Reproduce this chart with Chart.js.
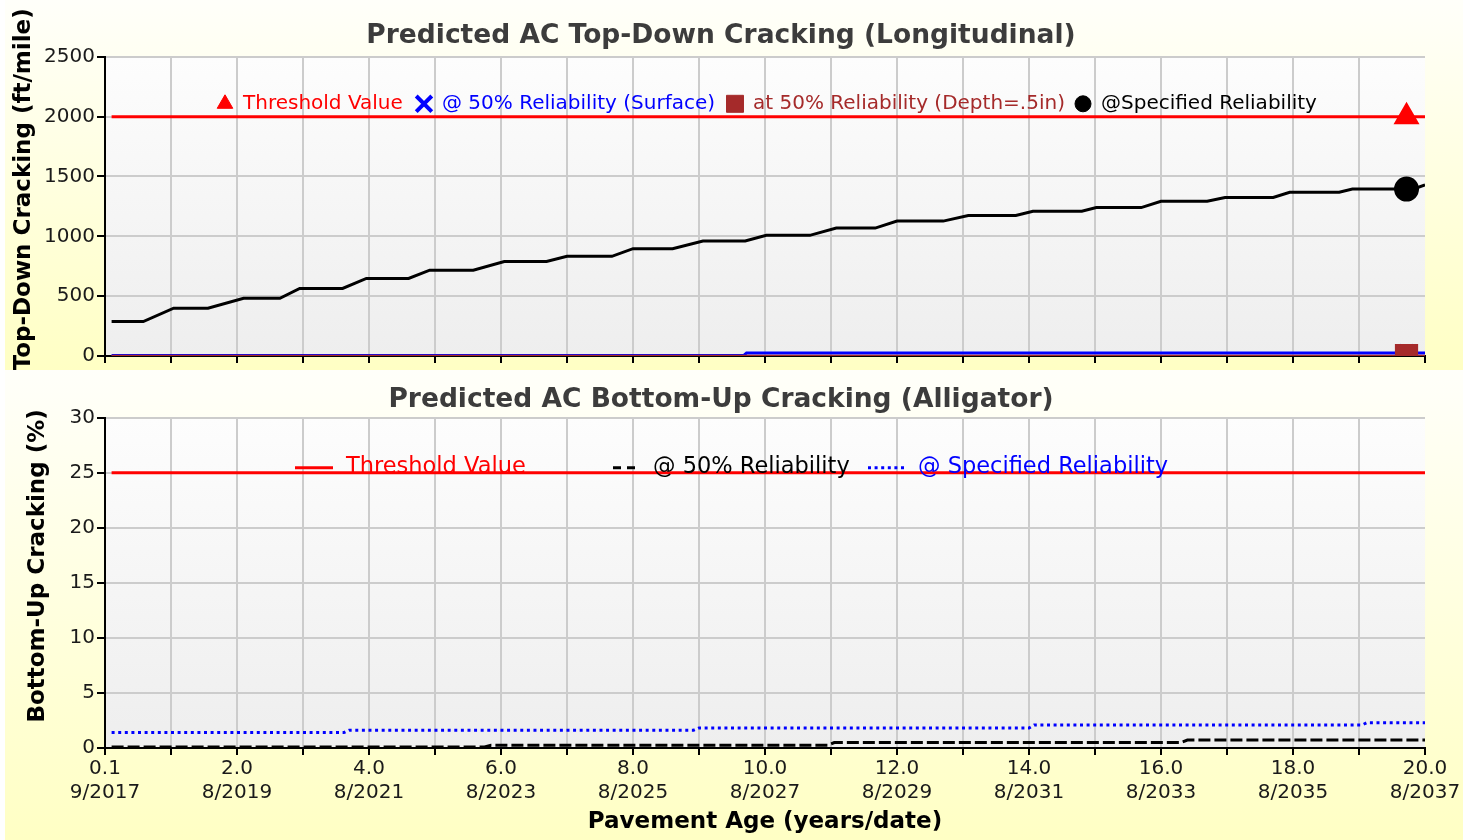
<!DOCTYPE html>
<html>
<head>
<meta charset="utf-8">
<title>Predicted AC Cracking</title>
<script src="https://cdn.jsdelivr.net/npm/chart.js@4.4.1/dist/chart.umd.min.js"></script>
<style>
    body { margin: 0; background: #fff; width: 1474px; height: 840px; overflow: hidden; }
    .panel { position: absolute; left: 0; width: 1474px; }
    #top-panel { top: 0; height: 370px; }
    #bottom-panel { top: 370px; height: 470px; }
    canvas { display: block; }
</style>
</head>
<body>
<div class="panel" id="top-panel"><canvas id="topChart" width="1474" height="370"></canvas></div>
<div class="panel" id="bottom-panel"><canvas id="bottomChart" width="1474" height="470"></canvas></div>

<script>
// X axis: pavement age, labelled every 2 years
const ageLabels = ['0.1', '2.0', '4.0', '6.0', '8.0', '10.0', '12.0', '14.0', '16.0', '18.0', '20.0'];
const dateLabels = ['9/2017', '8/2019', '8/2021', '8/2023', '8/2025', '8/2027', '8/2029', '8/2031', '8/2033', '8/2035', '8/2037'];
const markerYear = 19.72; // age where the end-of-life markers sit

// Top-down cracking (ft/mile)
const thresholdTDYears = [0.1, 19.72, 20.0];
const thresholdTD = [2000, 2000, 2000];
const surfaceYears = [0.1, 9.68, 9.72, 19.72, 20.0];
const surface50 = [5, 5, 25, 25, 25];
const depthYears = [0.1, 19.72, 20.0];
const depth50 = [3, 3, 3];
const specifiedTDYears = [0.1, 0.58, 1.04, 1.56, 2.1, 2.65, 2.95, 3.6, 3.96, 4.6, 4.92, 5.58, 6.05, 6.69, 7.0, 7.68,
    8.0, 8.6, 9.06, 9.7, 10.02, 10.68, 11.08, 11.67, 12.0, 12.7, 13.08, 13.8, 14.06, 14.8, 15.02, 15.7,
    16.0, 16.7, 16.97, 17.7, 17.95, 18.7, 18.9, 19.72, 19.85, 20.0];
const specifiedTD = [288, 288, 399, 399, 482, 482, 565, 565, 648, 648, 717, 717, 790, 790, 833, 833,
    897, 897, 961, 961, 1008, 1008, 1069, 1069, 1127, 1127, 1174, 1174, 1210, 1210, 1240, 1240,
    1293, 1293, 1325, 1325, 1368, 1368, 1395, 1395, 1400, 1430];

// Bottom-up cracking (%)
const thresholdBUYears = [0.1, 20.0];
const thresholdBU = [25, 25];
const rel50BUYears = [0.1, 5.75, 5.85, 10.95, 11.05, 16.3, 16.4, 20.0];
const rel50BU = [0.1, 0.1, 0.25, 0.25, 0.5, 0.5, 0.72, 0.72];
const specifiedBUYears = [0.1, 3.62, 3.7, 8.92, 9.0, 14.0, 14.08, 19.05, 19.12, 20.0];
const specifiedBU = [1.4, 1.4, 1.62, 1.62, 1.82, 1.82, 2.1, 2.1, 2.3, 2.3];

const FONT = "'DejaVu Sans', Verdana, sans-serif";

// junta anos e valores em pontos {x, y}
function toPoints(xs, ys) {
    return xs.map((x, i) => ({ x: x, y: ys[i] }));
}

// so desenha o marcador no ponto final (markerYear)
function markerAt(xs, r) {
    const idx = xs.indexOf(markerYear);
    return ctx => ctx.dataIndex === idx ? r : 0;
}

// sobe o titulo do eixo Y alguns pixels (como no original)
function shiftAxisTitle(scale, dy) {
    if (scale._titleShifted) return;
    const draw = scale.drawTitle.bind(scale);
    scale.drawTitle = function () {
        const c = this.ctx;
        c.save();
        c.translate(0, dy);
        draw();
        c.restore();
    };
    scale._titleShifted = true;
}

// fundo amarelado do painel + gradiente cinza na area do grafico
const panelBackground = {
    id: 'panelBackground',
    beforeDraw(chart) {
        const { ctx, width, height, chartArea } = chart;
        ctx.save();
        const g = ctx.createLinearGradient(0, 0, 0, height);
        g.addColorStop(0, '#fffffa');
        g.addColorStop(1, '#ffffc4');
        ctx.fillStyle = g;
        ctx.fillRect(5, 0, width - 16, height);
        const p = ctx.createLinearGradient(0, chartArea.top, 0, chartArea.bottom);
        p.addColorStop(0, '#fdfdfd');
        p.addColorStop(1, '#eeeeee');
        ctx.fillStyle = p;
        ctx.fillRect(chartArea.left, chartArea.top, chartArea.width, chartArea.height);
        ctx.restore();
    }
};

// legenda desenhada dentro da area do grafico
const inlineLegend = {
    id: 'inlineLegend',
    afterDatasetsDraw(chart, args, opts) {
        const { ctx, chartArea } = chart;
        const y = chartArea.top + opts.offsetY;
        ctx.save();
        ctx.font = opts.font;
        ctx.textBaseline = 'middle';
        chart.data.datasets.forEach((ds, i) => {
            const item = opts.items[i];
            const x = chartArea.left + item.x;
            ctx.fillStyle = ds.borderColor;
            ctx.strokeStyle = ds.borderColor;
            let textX;
            if (opts.mode === 'point') {
                ctx.lineWidth = ds.pointBorderWidth || 1;
                Chart.helpers.drawPoint(ctx, {
                    pointStyle: ds.pointStyle,
                    radius: item.r,
                    rotation: 0,
                    borderWidth: ds.pointBorderWidth || 1
                }, x, y);
                textX = x + opts.textGap;
            } else {
                ctx.lineWidth = ds.borderWidth;
                ctx.setLineDash(item.dash || ds.borderDash || []);
                ctx.beginPath();
                ctx.moveTo(x, y + 1);
                ctx.lineTo(x + item.w, y + 1);
                ctx.stroke();
                ctx.setLineDash([]);
                textX = x + item.w + opts.textGap;
            }
            ctx.fillStyle = ds.borderColor;
            ctx.fillText(ds.label, textX, y);
        });
        ctx.restore();
    }
};

// eixo X comum aos dois graficos
function ageAxis(showLabels, height) {
    return {
        type: 'linear',
        min: 0,
        max: 20,
        afterFit: scale => { scale.height = height; },
        ticks: {
            stepSize: 1,
            autoSkip: false,
            maxRotation: 0,
            padding: 2,
            color: '#1a1a1a',
            font: { family: FONT, size: 20, lineHeight: 1.2 },
            callback: value => {
                if (!showLabels || value % 2 !== 0) return '';
                return [ageLabels[value / 2], dateLabels[value / 2]];
            }
        },
        grid: {
            color: ctx => (ctx.tick && ctx.tick.value === 20) ? 'rgba(0,0,0,0)' : '#cccccc',
            lineWidth: 2,
            tickColor: '#000',
            tickLength: 7,
            tickWidth: 2
        },
        border: { color: '#000', width: 2 },
        title: showLabels ? {
            display: true,
            text: 'Pavement Age (years/date)',
            color: '#000',
            font: { family: FONT, size: 23, weight: 'bold' },
            padding: { top: 0, bottom: 4 }
        } : { display: false }
    };
}

function valueAxis(max, step, title, titleOffset) {
    return {
        min: 0,
        max: max,
        afterFit: scale => {
            scale.width = 88;
            shiftAxisTitle(scale, -17);
        },
        ticks: {
            stepSize: step,
            padding: 2,
            color: '#1a1a1a',
            font: { family: FONT, size: 20 },
            callback: value => String(value)
        },
        grid: {
            color: '#cccccc',
            lineWidth: 2,
            tickColor: '#000',
            tickLength: 8,
            tickWidth: 2
        },
        border: { color: '#000', width: 2 },
        title: {
            display: true,
            text: title,
            color: '#000',
            font: { family: FONT, size: 23, weight: 'bold' },
            padding: { top: titleOffset, bottom: 0 }
        }
    };
}

// Grafico de cima: trincamento top-down
const topChart = new Chart(document.getElementById('topChart'), {
    type: 'line',
    data: {
        datasets: [
            {
                label: 'Threshold Value',
                data: toPoints(thresholdTDYears, thresholdTD),
                borderColor: '#ff0000',
                backgroundColor: '#ff0000',
                borderWidth: 3,
                pointStyle: 'triangle',
                pointRadius: markerAt(thresholdTDYears, 12),
                order: 3
            },
            {
                label: '@ 50% Reliability (Surface)',
                data: toPoints(surfaceYears, surface50),
                borderColor: '#0000ff',
                backgroundColor: '#0000ff',
                borderWidth: 3,
                pointStyle: 'crossRot',
                pointBorderWidth: 4,
                pointRadius: markerAt(surfaceYears, 11),
                order: 2
            },
            {
                label: 'at 50% Reliability (Depth=.5in)',
                data: toPoints(depthYears, depth50),
                borderColor: '#a52a2a',
                backgroundColor: '#a52a2a',
                borderWidth: 2,
                pointStyle: 'rect',
                pointRadius: markerAt(depthYears, 15),
                order: 1
            },
            {
                label: '@Specified Reliability',
                data: toPoints(specifiedTDYears, specifiedTD),
                borderColor: '#000000',
                backgroundColor: '#000000',
                borderWidth: 3,
                pointStyle: 'circle',
                pointRadius: markerAt(specifiedTDYears, 11),
                order: 0
            }
        ]
    },
    options: {
        responsive: false,
        animation: false,
        layout: { padding: { left: 17, right: 49, top: 0, bottom: 0 } },
        elements: { line: { tension: 0 } },
        scales: {
            x: ageAxis(false, 12),
            y: valueAxis(2500, 500, 'Top-Down Cracking (ft/mile)', -7)
        },
        plugins: {
            legend: { display: false },
            tooltip: { enabled: false },
            title: {
                display: true,
                text: 'Predicted AC Top-Down Cracking (Longitudinal)',
                color: '#3c3c3c',
                font: { family: FONT, size: 26.5, weight: 'bold' },
                padding: { top: 20, bottom: 5 }
            },
            inlineLegend: {
                mode: 'point',
                offsetY: 47,
                font: '20px ' + FONT,
                textGap: 18,
                items: [{ x: 120, r: 9 }, { x: 319, r: 11 }, { x: 630, r: 12 }, { x: 978, r: 8 }]
            }
        }
    },
    plugins: [panelBackground, inlineLegend]
});

// Grafico de baixo: trincamento bottom-up (jacare)
const bottomChart = new Chart(document.getElementById('bottomChart'), {
    type: 'line',
    data: {
        datasets: [
            {
                label: 'Threshold Value',
                data: toPoints(thresholdBUYears, thresholdBU),
                borderColor: '#ff0000',
                borderWidth: 3,
                pointRadius: 0,
                order: 2
            },
            {
                label: '@ 50% Reliability',
                data: toPoints(rel50BUYears, rel50BU),
                borderColor: '#000000',
                borderWidth: 3,
                borderDash: [12, 4],
                pointRadius: 0,
                order: 1
            },
            {
                label: '@ Specified Reliability',
                data: toPoints(specifiedBUYears, specifiedBU),
                borderColor: '#0000ff',
                borderWidth: 3,
                borderDash: [3, 3.6],
                pointRadius: 0,
                order: 0
            }
        ]
    },
    options: {
        responsive: false,
        animation: false,
        layout: { padding: { left: 17, right: 49, top: 0, bottom: 0 } },
        elements: { line: { tension: 0 } },
        scales: {
            x: ageAxis(true, 92),
            y: valueAxis(30, 5, 'Bottom-Up Cracking (%)', 7)
        },
        plugins: {
            legend: { display: false },
            tooltip: { enabled: false },
            title: {
                display: true,
                text: 'Predicted AC Bottom-Up Cracking (Alligator)',
                color: '#3c3c3c',
                font: { family: FONT, size: 26.5, weight: 'bold' },
                padding: { top: 14, bottom: 2 }
            },
            inlineLegend: {
                mode: 'line',
                offsetY: 49,
                font: '22.5px ' + FONT,
                textGap: 13,
                items: [{ x: 190, w: 38 }, { x: 508, w: 27, dash: [8, 6] }, { x: 763, w: 37 }]
            }
        }
    },
    plugins: [panelBackground, inlineLegend]
});
</script>
</body>
</html>
